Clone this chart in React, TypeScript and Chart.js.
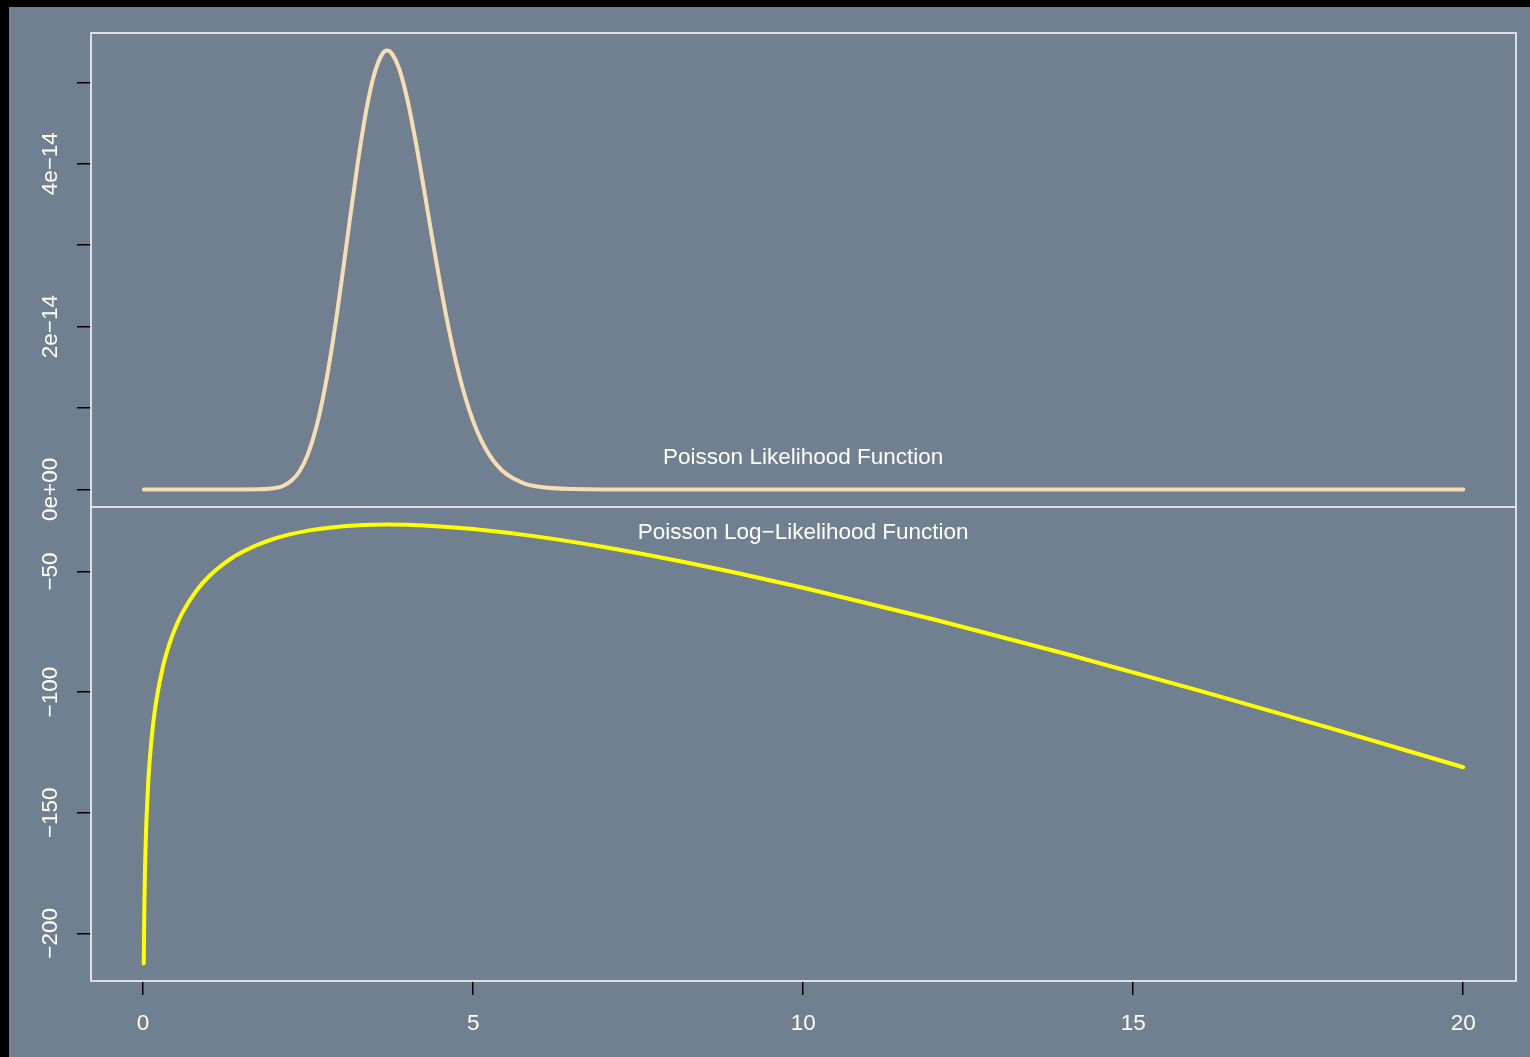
import React, { useEffect, useRef } from 'react';
import { Chart, registerables } from 'chart.js';

Chart.register(...registerables);

// ---- data ----
// Poisson likelihood L(lambda)
const likLambda = [
  0.01, 0.5, 1, 1.5, 1.75, 2, 2.125, 2.25, 2.375, 2.5, 2.625, 2.75, 2.875, 3, 3.125, 3.25,
  3.375, 3.5, 3.625, 3.7, 3.75, 3.875, 4, 4.125, 4.25, 4.375, 4.5, 4.625, 4.75, 4.875, 5,
  5.125, 5.25, 5.375, 5.5, 5.75, 6, 6.5, 7, 8, 10, 12, 15, 20,
];
const likValues = [
  0, 0, 0, 0.0001e-14, 0.0015e-14, 0.017e-14, 0.0458e-14, 0.1086e-14, 0.23e-14, 0.44e-14,
  0.766e-14, 1.228e-14, 1.822e-14, 2.521e-14, 3.271e-14, 3.999e-14, 4.632e-14, 5.094e-14,
  5.349e-14, 5.39e-14, 5.371e-14, 5.176e-14, 4.802e-14, 4.293e-14, 3.714e-14, 3.111e-14,
  2.527e-14, 1.996e-14, 1.533e-14, 1.147e-14, 0.839e-14, 0.6e-14, 0.419e-14, 0.287e-14,
  0.192e-14, 0.082e-14, 0.032e-14, 0.0042e-14, 0.0004e-14, 0, 0, 0, 0, 0,
];

// Poisson log-likelihood log L(lambda)
const llLambda = [
  0.01, 0.015, 0.02, 0.03, 0.04, 0.05, 0.075, 0.1, 0.15, 0.2, 0.3, 0.4, 0.5, 0.6, 0.8, 1,
  1.25, 1.5, 2, 2.5, 3, 3.5, 3.7, 4, 4.5, 5, 6, 7, 8, 9, 10, 12, 14, 16, 18, 20,
];
const llValues = [
  -212.45, -197.5, -186.91, -172.0, -161.46, -153.3, -138.55, -128.16, -113.65, -103.51,
  -89.51, -79.86, -72.61, -66.86, -58.22, -51.96, -46.2, -41.96, -36.31, -33.06, -31.31,
  -30.61, -30.55, -30.67, -31.31, -32.41, -35.66, -39.96, -45.02, -50.66, -56.76, -70.02,
  -84.31, -99.37, -115.02, -131.12,
];

const panelTitles = ['Poisson Likelihood Function', 'Poisson Log\u2212Likelihood Function'];
const titleX = 10;
const titleY = [0.393e-14, -33.9];

const xStep = 5;
const likStep = 1e-14;
const llStep = 50;

// ---- styling ----
const FONT = '"Liberation Sans", Arial, Helvetica, sans-serif';
const BG = '#708090';
const FS = 22.5;

function rRange(vals: number[]): [number, number] {
  const lo = Math.min(...vals);
  const hi = Math.max(...vals);
  const d = (hi - lo) * 0.04;
  return [lo - d, hi + d];
}

const minus = (v: number) => (v < 0 ? '\u2212' + String(Math.abs(v)) : String(v));

export default function App() {
  const ref = useRef<HTMLCanvasElement | null>(null);

  useEffect(() => {
    const canvas = ref.current;
    if (!canvas) return;
    const [xMin, xMax] = rRange([...likLambda, ...llLambda]);
    const [lMin, lMax] = rRange(likValues);
    const [llMin, llMax] = rRange(llValues);
    const tickFont = { family: FONT, size: FS };

    const boxPlugin = {
      id: 'rbox',
      afterDatasetsDraw(chart: any) {
        const { ctx, chartArea: a, scales } = chart;
        ctx.save();
        ctx.strokeStyle = '#ffffff';
        ctx.lineWidth = 1.5;
        ctx.strokeRect(a.left, a.top, a.right - a.left, a.bottom - a.top);
        const yb = Math.max(scales.yLik.top, scales.yLL.top);
        ctx.beginPath();
        ctx.moveTo(a.left, yb);
        ctx.lineTo(a.right, yb);
        ctx.stroke();
        // panel titles
        ctx.fillStyle = '#ffffff';
        ctx.font = `${FS}px ${FONT}`;
        ctx.textAlign = 'center';
        ctx.textBaseline = 'middle';
        const px = scales.x.getPixelForValue(titleX);
        ctx.fillText(panelTitles[0], px, scales.yLik.getPixelForValue(titleY[0]));
        ctx.fillText(panelTitles[1], px, scales.yLL.getPixelForValue(titleY[1]));
        ctx.restore();
      },
    };

    const gridOpts = {
      display: true,
      drawOnChartArea: false,
      drawTicks: true,
      tickLength: 14,
      color: '#000000',
      lineWidth: 1.5,
    };

    const chart = new Chart(canvas, {
      type: 'line',
      data: {
        datasets: [
          {
            data: likLambda.map((x, i) => ({ x, y: likValues[i] })),
            yAxisID: 'yLik',
            borderColor: '#F5DEB3',
            borderWidth: 4,
            pointRadius: 0,
            cubicInterpolationMode: 'monotone',
            borderCapStyle: 'round',
            borderJoinStyle: 'round',
            fill: false,
          },
          {
            data: llLambda.map((x, i) => ({ x, y: llValues[i] })),
            yAxisID: 'yLL',
            borderColor: '#FFFF00',
            borderWidth: 4,
            pointRadius: 0,
            cubicInterpolationMode: 'monotone',
            borderCapStyle: 'round',
            borderJoinStyle: 'round',
            fill: false,
          },
        ],
      },
      options: {
        responsive: false,
        animation: false,
        devicePixelRatio: 1,
        events: [],
        layout: { padding: { top: 26, right: 14, left: 0, bottom: 0 } },
        plugins: {
          legend: { display: false },
          tooltip: { enabled: false },
          title: { display: false },
        },
        scales: {
          x: {
            type: 'linear',
            position: 'bottom',
            min: xMin,
            max: xMax,
            afterFit: (s: any) => {
              s.height = 76;
            },
            ticks: {
              stepSize: xStep,
              includeBounds: false,
              autoSkip: false,
              maxRotation: 0,
              color: '#ffffff',
              font: tickFont,
              padding: 15,
              callback: (v: any) => String(v),
            },
            grid: gridOpts,
            border: { display: false },
          },
          yLL: {
            type: 'linear',
            position: 'left',
            stack: 'panels',
            stackWeight: 1,
            min: llMin,
            max: llMax,
            afterFit: (s: any) => {
              s.width = 82;
            },
            ticks: {
              stepSize: llStep,
              includeBounds: false,
              autoSkip: false,
              minRotation: 90,
              maxRotation: 90,
              crossAlign: 'center',
              padding: 1,
              color: '#ffffff',
              font: tickFont,
              callback: (v: any) => minus(Number(v)),
            },
            grid: gridOpts,
            border: { display: false },
          },
          yLik: {
            type: 'linear',
            position: 'left',
            stack: 'panels',
            stackWeight: 1,
            min: lMin,
            max: lMax,
            afterFit: (s: any) => {
              s.width = 82;
            },
            ticks: {
              stepSize: likStep,
              includeBounds: false,
              autoSkip: false,
              minRotation: 90,
              maxRotation: 90,
              crossAlign: 'center',
              padding: -5.3,
              color: '#ffffff',
              font: tickFont,
              callback: (v: any) => {
                const n = Math.round(Number(v) / 1e-14);
                if (n % 2 !== 0) return '';
                return n === 0 ? '0e+00' : `${n}e\u221214`;
              },
            },
            grid: gridOpts,
            border: { display: false },
          },
        },
      } as any,
      plugins: [boxPlugin],
    });

    return () => {
      chart.destroy();
    };
  }, []);

  return (
    <div style={{ position: 'fixed', left: 0, top: 0, right: 0, bottom: 0, background: '#000', overflow: 'hidden' }}>
      <div style={{ position: 'absolute', left: 9, top: 7, width: 1521, height: 1050, background: BG }}>
        <canvas ref={ref} width={1521} height={1050} style={{ display: 'block' }} />
      </div>
    </div>
  );
}
